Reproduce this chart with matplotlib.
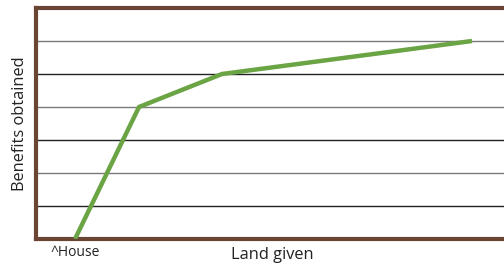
import matplotlib
matplotlib.use("Agg")
import matplotlib.pyplot as plt

# land given (arbitrary units) vs benefits obtained (grid steps)
land = [39, 103, 186, 436]
benefits = [0, 4, 5, 6]
house_label = "^House"
grid_levels = [1, 2, 3, 4, 5, 6]

BROWN = "#6b4533"
GREEN = "#6aa444"

plt.rcParams["font.family"] = ["Open Sans", "DejaVu Sans"]

fig = plt.figure(figsize=(5.04, 2.66), dpi=100)
ax = fig.add_axes([36 / 504, 27 / 266, 468 / 504, 231 / 266])

for i, lv in enumerate(grid_levels):
    ax.axhline(lv, color="#7a7a7a" if i % 2 else "#222222", lw=1.0, zorder=1)

ax.plot(land, benefits, color=GREEN, lw=3.2, solid_capstyle="butt", zorder=3)

ax.set_xlim(0, 468)
ax.set_ylim(0, 7)

for side in ("left", "bottom", "top"):
    ax.spines[side].set_color(BROWN)
    ax.spines[side].set_linewidth(3.0)
ax.spines["right"].set_visible(False)

ax.set_yticks([])
ax.set_xticks([land[0]], [house_label])
ax.tick_params(axis="x", length=0, pad=4, labelsize=10, labelcolor="#222222")
ax.set_ylabel("Benefits obtained", fontsize=11.8, color="#222222", labelpad=6)
ax.text(0.506, -0.068, "Land given", transform=ax.transAxes, ha="center", va="center",
        fontsize=11.8, color="#222222")

fig.savefig("out.png", dpi=100)
